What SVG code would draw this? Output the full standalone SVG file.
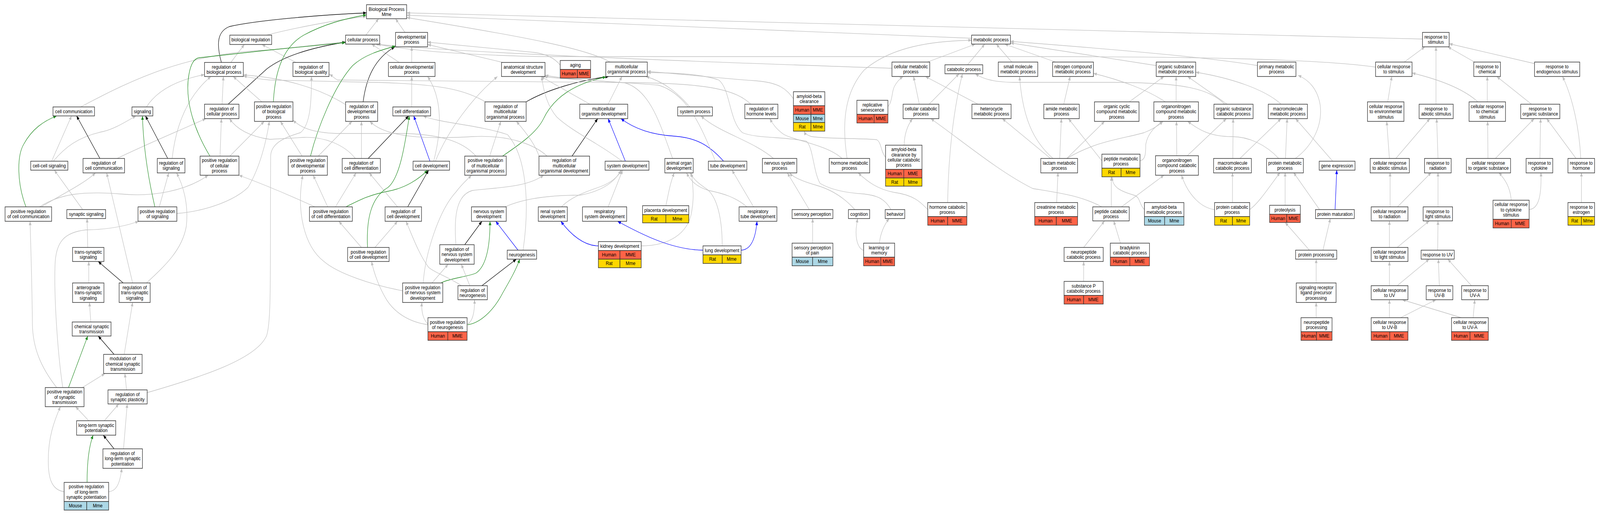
<svg xmlns="http://www.w3.org/2000/svg" width="4741" height="1317" viewBox="0 0 4741 1317" preserveAspectRatio="none">
<style>
svg{width:100%;height:100%}
.n rect{stroke:#333;stroke-width:1.5}
.b{fill:#fff}.h{fill:#ff6347}.m{fill:#add8e6}.r{fill:#ffd700}
text{font-family:"Liberation Sans",Arial,Helvetica,sans-serif;font-size:13px;text-anchor:middle;fill:#000}
#edges path{fill:none;stroke:#c0c0c0;stroke-width:1.3;marker-end:url(#ag)}
#edges path.k{stroke:#000;marker-end:url(#ak)}
#edges path.g{stroke:#228b22;marker-end:url(#agr)}
#edges path.u{stroke:#0000ff;marker-end:url(#ab)}
</style>
<defs>
<marker id="ag" viewBox="0 0 10 8" refX="10" refY="4" markerWidth="10" markerHeight="8" markerUnits="userSpaceOnUse" orient="auto"><path d="M0,0L10,4L0,8z" fill="#c0c0c0"/></marker>
<marker id="ak" viewBox="0 0 10 8" refX="10" refY="4" markerWidth="10" markerHeight="8" markerUnits="userSpaceOnUse" orient="auto"><path d="M0,0L10,4L0,8z" fill="#000"/></marker>
<marker id="agr" viewBox="0 0 10 8" refX="10" refY="4" markerWidth="10" markerHeight="8" markerUnits="userSpaceOnUse" orient="auto"><path d="M0,0L10,4L0,8z" fill="#228b22"/></marker>
<marker id="ab" viewBox="0 0 10 8" refX="10" refY="4" markerWidth="10" markerHeight="8" markerUnits="userSpaceOnUse" orient="auto"><path d="M0,0L10,4L0,8z" fill="#0000ff"/></marker>
</defs>
<rect width="4741" height="1317" fill="#fff"/>
<g id="edges">
<path d="M790,90 C870,72 990,52 1086,42"/>
<path class="k" d="M656,160 C640,110 645,80 680,68 C760,52 950,38 1086,33"/>
<path d="M1084,90 L1122,48"/>
<path d="M1200,83 L1172,48"/>
<path d="M2879,98 L1205,39"/>
<path d="M4215,100 L1205,33"/>
<path d="M1808,159 C1740,125 1560,95 1205,45"/>
<path d="M684,160 L724,114"/>
<path d="M877,160 L776,114"/>
<path d="M1183,160 L1101,113"/>
<path d="M1220,160 L1220,120"/>
<path d="M1490,160 L1267,114"/>
<path d="M1660,167 C1645,150 1620,138 1580,134 L1267,108"/>
<path d="M2351,253 C2330,228 2310,212 2240,207 C2100,198 2000,188 1918,183"/>
<path d="M2643,175 C2200,162 1400,138 1112,113"/>
<path d="M4076,172 C3900,150 3500,145 3000,145 L1600,145 C1350,140 1200,128 1118,113"/>
<path d="M2748,159 L2890,113"/>
<path d="M2867,166 L2918,113"/>
<path d="M2998,159 L2952,113"/>
<path d="M3128,159 L2977,113"/>
<path d="M3426,168 L2994,110"/>
<path d="M3726,168 C3600,150 3400,133 2994,106"/>
<path d="M4161,159 L4222,120"/>
<path d="M4369,159 L4290,120"/>
<path d="M4547,163 L4294,112"/>
<path d="M4255,267 L4255,120"/>
<path d="M239,274 C400,200 560,135 800,128 L1024,107"/>
<path d="M434,274 C465,232 525,205 606,191"/>
<path d="M658,267 L662,196"/>
<path class="k" d="M676,267 L790,177 C830,150 900,125 1024,108"/>
<path d="M776,261 L691,196"/>
<path class="g" d="M810,261 C815,180 840,120 900,90 C960,62 1020,48 1086,38"/>
<path d="M1024,268 C950,228 850,200 721,192"/>
<path class="k" d="M1076,261 C1085,200 1110,150 1170,120"/>
<path d="M1220,274 L1220,196"/>
<path d="M1440,262 C1380,230 1300,214 1100,211 L800,205 C760,202 740,198 721,195"/>
<path class="k" d="M1559,261 C1620,230 1720,205 1804,196"/>
<path d="M1802,267 L1843,196"/>
<path d="M1748,267 L1603,196"/>
<path d="M2044,274 C2010,240 1970,210 1914,196"/>
<path d="M2225,267 C2180,230 2100,215 1900,212 L1000,205 C990,200 985,195 976,190"/>
<path d="M2631,273 C2645,260 2642,235 2650,222 C2657,210 2666,202 2676,196"/>
<path d="M2724,267 L2707,196"/>
<path d="M2753,267 L2842,189"/>
<path d="M2898,267 L2742,196"/>
<path d="M3152,267 L3171,196"/>
<path d="M3346,261 L3449,196"/>
<path d="M3485,261 L3485,196"/>
<path d="M3453,261 C3400,230 3320,205 3240,188"/>
<path d="M3636,267 L3519,196"/>
<path d="M3629,267 C3580,225 3500,212 3300,211 L3000,211 C2950,210 2915,204 2890,189"/>
<path d="M3796,267 C3750,230 3650,200 3543,185"/>
<path d="M4112,261 L4124,196"/>
<path d="M4379,261 C4340,230 4270,205 4184,187"/>
<path d="M4407,261 L4407,196"/>
<path d="M4538,267 L4435,196"/>
<path d="M153,413 L212,297"/>
<path d="M158,413 C190,380 230,350 306,337 C340,330 372,312 403,297"/>
<path class="k" d="M296,406 L227,297"/>
<path d="M347,406 C420,375 530,335 610,304"/>
<path class="k" d="M497,406 L431,297"/>
<path d="M510,406 C520,330 550,250 625,196"/>
<path d="M652,400 L656,304"/>
<path d="M681,400 L783,311"/>
<path class="g" d="M622,400 C580,340 545,260 560,190 C565,165 575,150 590,148 L800,128 L1024,109"/>
<path d="M943,400 L1043,311"/>
<path d="M895,400 L831,311"/>
<path class="g" d="M920,400 C940,330 990,220 1045,168 C1080,140 1130,128 1172,118"/>
<path d="M1071,406 L1071,311"/>
<path class="k" d="M1091,406 L1211,297"/>
<path d="M1053,406 C1020,370 960,350 900,352 L800,357 C740,350 700,330 680,304"/>
<path class="u" d="M1274,413 L1226,297"/>
<path d="M1285,413 C1310,330 1310,250 1267,196"/>
<path d="M1290,413 C1330,330 1400,250 1474,196"/>
<path d="M1451,400 L1484,311"/>
<path class="g" d="M1489,400 C1540,370 1590,340 1610,305 C1640,250 1700,215 1796,197"/>
<path d="M1410,400 C1370,360 1300,345 1200,342 L1000,342 C920,340 890,325 868,308"/>
<path d="M1598,402 C1590,380 1570,350 1530,311"/>
<path class="k" d="M1695,400 L1771,304"/>
<path d="M1621,400 C1590,375 1520,345 1400,350 C1250,358 1140,350 1096,311"/>
<path class="u" d="M1853,413 L1802,304"/>
<path d="M1843,413 C1780,370 1700,340 1650,300 C1620,270 1610,230 1605,196"/>
<path d="M1993,406 C1960,330 1930,230 1850,212 C1750,205 1680,205 1612,196"/>
<path class="u" d="M2144,413 C2100,370 2060,353 2000,349 C1930,345 1880,330 1840,304"/>
<path d="M2120,413 C2080,330 2040,240 1950,218 C1800,208 1700,206 1615,193"/>
<path d="M2292,406 C2230,360 2130,340 2077,297"/>
<path d="M2495,406 C2450,370 2350,360 2320,343 C2300,330 2290,318 2281,304"/>
<path d="M2510,406 C2495,320 2500,240 2560,180 C2640,120 2760,105 2879,103"/>
<path d="M2624,403 C2610,390 2612,365 2598,358 C2560,354 2450,356 2405,350 C2392,347 2386,343 2383,336"/>
<path d="M2679,372 C2680,340 2690,320 2704,304"/>
<path d="M3113,406 L2970,304"/>
<path d="M3120,406 C3060,360 3030,300 3021,196"/>
<path d="M3140,406 L3145,304"/>
<path d="M3161,406 L3273,311"/>
<path d="M3161,406 C3250,360 3330,355 3390,340 C3420,330 3435,320 3446,311"/>
<path d="M3265,412 L3166,304"/>
<path d="M3378,412 C3395,410 3395,390 3395,370 C3400,345 3420,325 3446,311"/>
<path d="M3487,399 L3486,311"/>
<path d="M3518,399 L3634,304"/>
<path d="M3653,406 L3654,304"/>
<path d="M3674,406 L3796,304"/>
<path d="M3809,406 L3814,304"/>
<path d="M3838,406 C3880,380 3920,330 3912,270 C3905,230 3880,205 3846,193"/>
<path d="M3789,406 C3750,370 3700,350 3650,350 C3580,350 3550,330 3519,311"/>
<path d="M3949,413 L3839,304"/>
<path d="M4117,406 L4109,311"/>
<path d="M4136,406 L4237,304"/>
<path d="M4261,406 L4257,304"/>
<path d="M4409,406 L4408,311"/>
<path d="M4431,406 L4546,304"/>
<path d="M4563,406 L4565,304"/>
<path d="M4670,406 L4583,304"/>
<path d="M4684,406 C4680,330 4660,250 4630,196"/>
<path class="g" d="M77,530 C50,470 50,400 70,370 C95,330 130,310 168,297"/>
<path d="M122,530 C180,500 250,470 283,443"/>
<path d="M117,530 C180,495 250,490 357,497 C450,505 550,490 617,449"/>
<path d="M245,537 L161,436"/>
<path class="g" d="M459,530 C440,460 425,380 422,297"/>
<path d="M472,530 L500,443"/>
<path d="M524,547 C620,540 700,510 735,480 C770,430 790,360 798,311"/>
<path d="M933,530 C870,505 790,475 708,449"/>
<path d="M971,530 L928,449"/>
<path d="M994,530 L1055,443"/>
<path class="g" d="M1025,530 C1060,515 1090,500 1150,490 C1200,482 1240,460 1267,436"/>
<path d="M1178,530 L1094,443"/>
<path class="k" d="M1208,530 L1270,436"/>
<path d="M1497,530 C1560,505 1650,500 1720,500 C1780,490 1820,470 1840,436"/>
<path d="M1664,530 C1690,505 1740,490 1780,478 C1810,468 1830,455 1842,436"/>
<path d="M1802,530 L1845,436"/>
<path d="M1973,527 C1980,500 1985,470 1998,443"/>
<path d="M2233,530 L2169,436"/>
<path d="M2213,530 C2180,505 2140,495 2100,488 C2060,478 2045,460 2034,443"/>
<path d="M2398,537 L2333,443"/>
<path d="M2533,537 C2500,505 2460,485 2420,475 C2380,465 2350,455 2340,443"/>
<path d="M2640,537 C2620,505 2590,500 2560,497 C2500,494 2460,485 2430,470 C2410,440 2410,380 2390,362 C2330,350 2240,355 2200,340 C2160,310 2165,230 2130,205 C2080,190 2000,186 1918,186"/>
<path d="M2606,623 C2608,600 2620,575 2635,560"/>
<path d="M2559,642 C2540,635 2535,610 2537,585 L2541,560"/>
<path d="M2749,537 C2730,520 2710,500 2650,493 C2600,485 2570,465 2543,443"/>
<path d="M2808,519 C2810,400 2825,280 2852,189"/>
<path d="M3131,519 L3135,442"/>
<path d="M3293,530 L3293,453"/>
<path d="M3265,530 C3200,500 3130,493 3060,483 C2960,440 2850,360 2758,304"/>
<path d="M3323,530 L3449,449"/>
<path d="M3391,537 C3375,525 3380,505 3360,500 C3320,490 3296,480 3295,453"/>
<path d="M3652,519 L3652,442"/>
<path d="M3703,537 C3730,520 3760,480 3793,442"/>
<path d="M3599,537 C3560,533 3520,500 3501,449"/>
<path d="M3808,526 L3808,442"/>
<path d="M3910,537 L3833,442"/>
<path class="u" d="M3956,537 L3961,436"/>
<path d="M4119,530 L4119,442"/>
<path d="M4141,530 L4241,442"/>
<path d="M4261,530 L4261,442"/>
<path d="M4478,513 C4475,480 4460,460 4441,442"/>
<path d="M4531,537 C4560,535 4568,500 4566,442"/>
<path d="M4686,519 L4686,442"/>
<path d="M260,634 L258,560"/>
<path d="M1071,634 L1004,567"/>
<path d="M1111,634 L1178,567"/>
<path class="g" d="M1089,634 C1085,560 1100,505 1150,480 C1185,455 1200,370 1213,297"/>
<path class="k" d="M1377,627 L1428,567"/>
<path d="M1351,627 C1345,560 1350,500 1400,488 C1480,480 1560,480 1611,449"/>
<path class="u" d="M1535,641 L1469,567"/>
<path d="M1550,641 C1570,520 1560,400 1504,345 C1420,320 1300,315 1254,297"/>
<path class="u" d="M1773,630 C1730,630 1690,600 1662,567"/>
<path d="M1900,630 C1980,630 2040,600 2050,540 C2058,500 2052,470 2049,443"/>
<path class="u" d="M2083,641 C1990,640 1900,600 1830,567"/>
<path class="u" d="M2196,641 C2230,640 2240,600 2243,567"/>
<path d="M2140,630 C2140,560 2125,505 2095,485 C2070,470 2055,460 2045,443"/>
<path d="M2408,623 L2408,560"/>
<path d="M3211,634 L3273,566"/>
<path d="M3320,623 L3300,566"/>
<path d="M3920,641 L3942,560"/>
<path d="M3880,641 L3808,570"/>
<path d="M4117,634 L4117,566"/>
<path d="M4140,634 L4235,566"/>
<path d="M4260,641 L4261,566"/>
<path d="M263,725 L263,670"/>
<path class="k" d="M365,725 L291,670"/>
<path d="M393,725 L316,443"/>
<path d="M434,725 C490,680 540,640 552,580 C560,520 540,470 523,443"/>
<path d="M1280,725 L1328,677"/>
<path class="g" d="M1308,724 C1340,712 1380,710 1410,700 C1445,680 1452,620 1452,567"/>
<path d="M1254,725 C1260,650 1300,540 1351,492 C1370,470 1385,460 1397,449"/>
<path d="M1193,745 C1100,730 1000,700 960,670 C900,630 878,540 897,449"/>
<path d="M1392,732 L1367,677"/>
<path class="k" d="M1428,732 L1530,664"/>
<path d="M1367,732 C1330,710 1290,700 1270,685 C1240,650 1220,600 1203,567"/>
<path d="M3211,721 L3211,670"/>
<path d="M3900,725 L3900,664"/>
<path d="M4117,732 L4117,670"/>
<path d="M4140,732 L4235,664"/>
<path d="M4265,732 L4262,664"/>
<path d="M4360,732 L4290,664"/>
<path d="M269,825 L265,775"/>
<path d="M1268,830 C1255,820 1248,800 1250,775"/>
<path d="M1268,832 C1210,825 1170,800 1147,770 C1125,740 1108,700 1101,670"/>
<path d="M1384,831 C1400,825 1407,800 1406,768"/>
<path class="g" d="M1386,832 C1420,828 1460,800 1490,750 C1510,720 1530,690 1540,664"/>
<path d="M3900,814 L3900,775"/>
<path d="M4117,814 L4117,768"/>
<path d="M4150,814 L4255,768"/>
<path d="M4330,814 L4155,768"/>
<path d="M4365,814 L4370,768"/>
<path class="k" d="M338,908 L291,861"/>
<path d="M368,908 L393,775"/>
<path class="g" d="M203,993 L260,861"/>
<path d="M244,993 L311,957"/>
<path d="M168,993 C120,940 97,890 96,830 C95,740 92,650 89,567"/>
<path d="M186,993 C170,900 160,760 163,680 C165,620 190,595 255,589 C320,588 370,580 411,567"/>
<path d="M375,999 L370,957"/>
<path d="M436,1006 C600,965 760,920 790,860 C805,820 800,700 802,400 C803,365 850,350 890,340 C920,320 923,260 923,196"/>
<path d="M263,1078 L224,1042"/>
<path d="M309,1078 L352,1035"/>
<path class="k" d="M338,1150 L306,1115"/>
<path d="M366,1150 L377,1035"/>
<path class="g" d="M258,1236 C258,1180 265,1140 276,1115"/>
<path d="M190,1260 C150,1255 143,1220 143,1180 C143,1120 160,1080 179,1042"/>
<path d="M322,1260 C345,1258 355,1240 361,1200"/>
</g>
<g id="nodes">
<g id="bp" class="n"><rect class="b" x="1086" y="12" width="119" height="36"/><text x="1145.5" y="27.6">Biological Process</text><text x="1145.5" y="41">Mme</text></g>
<g id="bioreg" class="n"><rect class="b" x="681" y="90" width="124" height="24"/><text x="743" y="106.5">biological regulation</text></g>
<g id="cellproc" class="n"><rect class="b" x="1024" y="90" width="101" height="23"/><text x="1074.5" y="106">cellular process</text></g>
<g id="devproc" class="n"><rect class="b" x="1172" y="83" width="95" height="37"/><text x="1219.5" y="99.1">developmental</text><text x="1219.5" y="112.5">process</text></g>
<g id="metab" class="n"><rect class="b" x="2879" y="90" width="115" height="23"/><text x="2936.5" y="106">metabolic process</text></g>
<g id="respstim" class="n"><rect class="b" x="4215" y="83" width="79" height="37"/><text x="4254.5" y="99.1">response to</text><text x="4254.5" y="112.5">stimulus</text></g>
<g id="regbp" class="n"><rect class="b" x="606" y="160" width="115" height="36"/><text x="663.5" y="175.6">regulation of</text><text x="663.5" y="189">biological process</text></g>
<g id="regbq" class="n"><rect class="b" x="868" y="160" width="107" height="36"/><text x="921.5" y="175.6">regulation of</text><text x="921.5" y="189">biological quality</text></g>
<g id="celldevproc" class="n"><rect class="b" x="1151" y="160" width="138" height="36"/><text x="1220" y="175.6">cellular developmental</text><text x="1220" y="189">process</text></g>
<g id="asd" class="n"><rect class="b" x="1486" y="160" width="129" height="36"/><text x="1550.5" y="175.6">anatomical structure</text><text x="1550.5" y="189">development</text></g>
<g id="aging" class="n"><rect class="b" x="1660" y="155" width="90" height="23"/><text x="1705" y="171">aging</text><rect class="h" x="1660" y="178" width="51" height="22"/><rect class="h" x="1711" y="178" width="39" height="22"/><text x="1685.5" y="193.5">Human</text><text x="1730.5" y="193.5">MME</text></g>
<g id="mop" class="n"><rect class="b" x="1795" y="159" width="123" height="37"/><text x="1856.5" y="175.1">multicellular</text><text x="1856.5" y="188.5">organismal process</text></g>
<g id="amyclear" class="n"><rect class="b" x="2351" y="235" width="93" height="36"/><text x="2397.5" y="250.6">amyloid-beta</text><text x="2397.5" y="264">clearance</text><rect class="h" x="2351" y="271" width="52" height="22"/><rect class="h" x="2403" y="271" width="41" height="22"/><text x="2377" y="286.5">Human</text><text x="2423.5" y="286.5">MME</text><rect class="m" x="2351" y="293" width="52" height="21"/><rect class="m" x="2403" y="293" width="41" height="21"/><text x="2377" y="308">Mouse</text><text x="2423.5" y="308">Mme</text><rect class="r" x="2351" y="314" width="52" height="22"/><rect class="r" x="2403" y="314" width="41" height="22"/><text x="2377" y="329.5">Rat</text><text x="2423.5" y="329.5">Mme</text></g>
<g id="cellmetab" class="n"><rect class="b" x="2643" y="159" width="112" height="37"/><text x="2699" y="175.1">cellular metabolic</text><text x="2699" y="188.5">process</text></g>
<g id="catab" class="n"><rect class="b" x="2800" y="166" width="112" height="23"/><text x="2856" y="182">catabolic process</text></g>
<g id="smallmol" class="n"><rect class="b" x="2958" y="159" width="117" height="37"/><text x="3016.5" y="175.1">small molecule</text><text x="3016.5" y="188.5">metabolic process</text></g>
<g id="nitro" class="n"><rect class="b" x="3119" y="159" width="121" height="37"/><text x="3179.5" y="175.1">nitrogen compound</text><text x="3179.5" y="188.5">metabolic process</text></g>
<g id="orgsub" class="n"><rect class="b" x="3426" y="159" width="117" height="37"/><text x="3484.5" y="175.1">organic substance</text><text x="3484.5" y="188.5">metabolic process</text></g>
<g id="primary" class="n"><rect class="b" x="3726" y="159" width="114" height="37"/><text x="3783" y="175.1">primary metabolic</text><text x="3783" y="188.5">process</text></g>
<g id="crstim" class="n"><rect class="b" x="4076" y="159" width="108" height="37"/><text x="4130" y="175.1">cellular response</text><text x="4130" y="188.5">to stimulus</text></g>
<g id="respchem" class="n"><rect class="b" x="4367" y="159" width="79" height="37"/><text x="4406.5" y="175.1">response to</text><text x="4406.5" y="188.5">chemical</text></g>
<g id="respendo" class="n"><rect class="b" x="4547" y="159" width="134" height="37"/><text x="4614" y="175.1">response to</text><text x="4614" y="188.5">endogenous stimulus</text></g>
<g id="cellcomm" class="n"><rect class="b" x="157" y="274" width="123" height="23"/><text x="218.5" y="290">cell communication</text></g>
<g id="signaling" class="n"><rect class="b" x="391" y="274" width="62" height="23"/><text x="422" y="290">signaling</text></g>
<g id="regcp" class="n"><rect class="b" x="606" y="267" width="102" height="37"/><text x="657" y="283.1">regulation of</text><text x="657" y="296.5">cellular process</text></g>
<g id="posregbp" class="n"><rect class="b" x="754" y="261" width="114" height="50"/><text x="811" y="276.9">positive regulation</text><text x="811" y="290.3">of biological</text><text x="811" y="303.7">process</text></g>
<g id="regdev" class="n"><rect class="b" x="1024" y="261" width="95" height="50"/><text x="1071.5" y="276.9">regulation of</text><text x="1071.5" y="290.3">developmental</text><text x="1071.5" y="303.7">process</text></g>
<g id="celldiff" class="n"><rect class="b" x="1164" y="274" width="112" height="23"/><text x="1220" y="290">cell differentiation</text></g>
<g id="regmop" class="n"><rect class="b" x="1437" y="261" width="122" height="50"/><text x="1498" y="276.9">regulation of</text><text x="1498" y="290.3">multicellular</text><text x="1498" y="303.7">organismal process</text></g>
<g id="mod" class="n"><rect class="b" x="1718" y="267" width="142" height="37"/><text x="1789" y="283.1">multicellular</text><text x="1789" y="296.5">organism development</text></g>
<g id="sysproc" class="n"><rect class="b" x="2008" y="274" width="103" height="23"/><text x="2059.5" y="290">system process</text></g>
<g id="reghorm" class="n"><rect class="b" x="2207" y="267" width="98" height="37"/><text x="2256" y="283.1">regulation of</text><text x="2256" y="296.5">hormone levels</text></g>
<g id="repsen" class="n"><rect class="b" x="2539" y="257" width="92" height="36"/><text x="2585" y="272.6">replicative</text><text x="2585" y="286">senescence</text><rect class="h" x="2539" y="293" width="51" height="22"/><rect class="h" x="2590" y="293" width="41" height="22"/><text x="2564.5" y="308.5">Human</text><text x="2610.5" y="308.5">MME</text></g>
<g id="cellcatab" class="n"><rect class="b" x="2676" y="267" width="106" height="37"/><text x="2729" y="283.1">cellular catabolic</text><text x="2729" y="296.5">process</text></g>
<g id="hetero" class="n"><rect class="b" x="2880" y="267" width="116" height="37"/><text x="2938" y="283.1">heterocycle</text><text x="2938" y="296.5">metabolic process</text></g>
<g id="amide" class="n"><rect class="b" x="3093" y="267" width="105" height="37"/><text x="3145.5" y="283.1">amide metabolic</text><text x="3145.5" y="296.5">process</text></g>
<g id="orgcyc" class="n"><rect class="b" x="3243" y="261" width="132" height="50"/><text x="3309" y="276.9">organic cyclic</text><text x="3309" y="290.3">compound metabolic</text><text x="3309" y="303.7">process</text></g>
<g id="orgnitro" class="n"><rect class="b" x="3419" y="261" width="132" height="50"/><text x="3485" y="276.9">organonitrogen</text><text x="3485" y="290.3">compound metabolic</text><text x="3485" y="303.7">process</text></g>
<g id="orgsubcat" class="n"><rect class="b" x="3597" y="267" width="116" height="37"/><text x="3655" y="283.1">organic substance</text><text x="3655" y="296.5">catabolic process</text></g>
<g id="macro" class="n"><rect class="b" x="3758" y="267" width="116" height="37"/><text x="3816" y="283.1">macromolecule</text><text x="3816" y="296.5">metabolic process</text></g>
<g id="crenv" class="n"><rect class="b" x="4052" y="261" width="108" height="50"/><text x="4106" y="276.9">cellular response</text><text x="4106" y="290.3">to environmental</text><text x="4106" y="303.7">stimulus</text></g>
<g id="rabiotic" class="n"><rect class="b" x="4205" y="267" width="101" height="37"/><text x="4255.5" y="283.1">response to</text><text x="4255.5" y="296.5">abiotic stimulus</text></g>
<g id="crchem" class="n"><rect class="b" x="4353" y="261" width="108" height="50"/><text x="4407" y="276.9">cellular response</text><text x="4407" y="290.3">to chemical</text><text x="4407" y="303.7">stimulus</text></g>
<g id="rorg" class="n"><rect class="b" x="4506" y="267" width="116" height="37"/><text x="4564" y="283.1">response to</text><text x="4564" y="296.5">organic substance</text></g>
<g id="ccsig" class="n"><rect class="b" x="91" y="413" width="110" height="23"/><text x="146" y="429">cell-cell signaling</text></g>
<g id="regcc" class="n"><rect class="b" x="246" y="406" width="123" height="37"/><text x="307.5" y="422.1">regulation of</text><text x="307.5" y="435.5">cell communication</text></g>
<g id="regsig" class="n"><rect class="b" x="466" y="406" width="82" height="37"/><text x="507" y="422.1">regulation of</text><text x="507" y="435.5">signaling</text></g>
<g id="posregcp" class="n"><rect class="b" x="593" y="400" width="115" height="49"/><text x="650.5" y="415.4">positive regulation</text><text x="650.5" y="428.8">of cellular</text><text x="650.5" y="442.2">process</text></g>
<g id="posregdev" class="n"><rect class="b" x="854" y="400" width="116" height="49"/><text x="912" y="415.4">positive regulation</text><text x="912" y="428.8">of developmental</text><text x="912" y="442.2">process</text></g>
<g id="regcd" class="n"><rect class="b" x="1014" y="406" width="113" height="37"/><text x="1070.5" y="422.1">regulation of</text><text x="1070.5" y="435.5">cell differentiation</text></g>
<g id="celldev" class="n"><rect class="b" x="1224" y="413" width="108" height="23"/><text x="1278" y="429">cell development</text></g>
<g id="posregmop" class="n"><rect class="b" x="1377" y="400" width="123" height="49"/><text x="1438.5" y="415.4">positive regulation</text><text x="1438.5" y="428.8">of multicellular</text><text x="1438.5" y="442.2">organismal process</text></g>
<g id="regmod" class="n"><rect class="b" x="1597" y="400" width="150" height="49"/><text x="1672" y="415.4">regulation of</text><text x="1672" y="428.8">multicellular</text><text x="1672" y="442.2">organismal development</text></g>
<g id="sysdev" class="n"><rect class="b" x="1793" y="413" width="130" height="23"/><text x="1858" y="429">system development</text></g>
<g id="aod" class="n"><rect class="b" x="1970" y="406" width="84" height="37"/><text x="2012" y="422.1">animal organ</text><text x="2012" y="435.5">development</text></g>
<g id="tubedev" class="n"><rect class="b" x="2099" y="413" width="114" height="23"/><text x="2156" y="429">tube development</text></g>
<g id="nsp" class="n"><rect class="b" x="2259" y="406" width="102" height="37"/><text x="2310" y="422.1">nervous system</text><text x="2310" y="435.5">process</text></g>
<g id="hormmet" class="n"><rect class="b" x="2457" y="406" width="120" height="37"/><text x="2517" y="422.1">hormone metabolic</text><text x="2517" y="435.5">process</text></g>
<g id="abcc" class="n"><rect class="b" x="2624" y="372" width="108" height="62"/><text x="2678" y="387.2">amyloid-beta</text><text x="2678" y="400.6">clearance by</text><text x="2678" y="414">cellular catabolic</text><text x="2678" y="427.4">process</text><rect class="h" x="2624" y="434" width="54" height="22"/><rect class="h" x="2678" y="434" width="54" height="22"/><text x="2651" y="449.5">Human</text><text x="2705" y="449.5">MME</text><rect class="r" x="2624" y="456" width="54" height="21"/><rect class="r" x="2678" y="456" width="54" height="21"/><text x="2651" y="471">Rat</text><text x="2705" y="471">Mme</text></g>
<g id="lactam" class="n"><rect class="b" x="3084" y="406" width="109" height="37"/><text x="3138.5" y="422.1">lactam metabolic</text><text x="3138.5" y="435.5">process</text></g>
<g id="peptmet" class="n"><rect class="b" x="3265" y="395" width="113" height="36"/><text x="3321.5" y="410.6">peptide metabolic</text><text x="3321.5" y="424">process</text><rect class="r" x="3265" y="431" width="57" height="22"/><rect class="r" x="3322" y="431" width="56" height="22"/><text x="3293.5" y="446.5">Rat</text><text x="3350" y="446.5">Mme</text></g>
<g id="onccat" class="n"><rect class="b" x="3424" y="399" width="127" height="50"/><text x="3487.5" y="414.9">organonitrogen</text><text x="3487.5" y="428.3">compound catabolic</text><text x="3487.5" y="441.7">process</text></g>
<g id="macrocat" class="n"><rect class="b" x="3596" y="406" width="112" height="37"/><text x="3652" y="422.1">macromolecule</text><text x="3652" y="435.5">catabolic process</text></g>
<g id="protmet" class="n"><rect class="b" x="3753" y="406" width="109" height="37"/><text x="3807.5" y="422.1">protein metabolic</text><text x="3807.5" y="435.5">process</text></g>
<g id="geneexp" class="n"><rect class="b" x="3909" y="413" width="106" height="23"/><text x="3962" y="429">gene expression</text></g>
<g id="crabiotic" class="n"><rect class="b" x="4060" y="406" width="116" height="37"/><text x="4118" y="422.1">cellular response</text><text x="4118" y="435.5">to abiotic stimulus</text></g>
<g id="rrad" class="n"><rect class="b" x="4221" y="406" width="79" height="37"/><text x="4260.5" y="422.1">response to</text><text x="4260.5" y="435.5">radiation</text></g>
<g id="crorg" class="n"><rect class="b" x="4345" y="406" width="131" height="37"/><text x="4410.5" y="422.1">cellular response</text><text x="4410.5" y="435.5">to organic substance</text></g>
<g id="rcyto" class="n"><rect class="b" x="4522" y="406" width="79" height="37"/><text x="4561.5" y="422.1">response to</text><text x="4561.5" y="435.5">cytokine</text></g>
<g id="rhorm" class="n"><rect class="b" x="4646" y="406" width="79" height="37"/><text x="4685.5" y="422.1">response to</text><text x="4685.5" y="435.5">hormone</text></g>
<g id="posregcc" class="n"><rect class="b" x="15" y="530" width="138" height="37"/><text x="84" y="546.1">positive regulation</text><text x="84" y="559.5">of cell communication</text></g>
<g id="synsig" class="n"><rect class="b" x="198" y="537" width="115" height="23"/><text x="255.5" y="553">synaptic signaling</text></g>
<g id="posregsig" class="n"><rect class="b" x="409" y="530" width="115" height="37"/><text x="466.5" y="546.1">positive regulation</text><text x="466.5" y="559.5">of signaling</text></g>
<g id="posregcd" class="n"><rect class="b" x="917" y="530" width="127" height="37"/><text x="980.5" y="546.1">positive regulation</text><text x="980.5" y="559.5">of cell differentiation</text></g>
<g id="regcdev" class="n"><rect class="b" x="1141" y="530" width="108" height="37"/><text x="1195" y="546.1">regulation of</text><text x="1195" y="559.5">cell development</text></g>
<g id="nsd" class="n"><rect class="b" x="1397" y="530" width="103" height="37"/><text x="1448.5" y="546.1">nervous system</text><text x="1448.5" y="559.5">development</text></g>
<g id="renal" class="n"><rect class="b" x="1595" y="530" width="86" height="37"/><text x="1638" y="546.1">renal system</text><text x="1638" y="559.5">development</text></g>
<g id="resp" class="n"><rect class="b" x="1726" y="530" width="131" height="37"/><text x="1791.5" y="546.1">respiratory</text><text x="1791.5" y="559.5">system development</text></g>
<g id="placenta" class="n"><rect class="b" x="1904" y="527" width="137" height="23"/><text x="1972.5" y="543">placenta development</text><rect class="r" x="1904" y="550" width="69" height="21"/><rect class="r" x="1973" y="550" width="68" height="21"/><text x="1938.5" y="565">Rat</text><text x="2007" y="565">Mme</text></g>
<g id="resptube" class="n"><rect class="b" x="2190" y="530" width="112" height="37"/><text x="2246" y="546.1">respiratory</text><text x="2246" y="559.5">tube development</text></g>
<g id="sensperc" class="n"><rect class="b" x="2347" y="537" width="121" height="23"/><text x="2407.5" y="553">sensory perception</text></g>
<g id="cognition" class="n"><rect class="b" x="2514" y="537" width="63" height="23"/><text x="2545.5" y="553">cognition</text></g>
<g id="behavior" class="n"><rect class="b" x="2623" y="537" width="58" height="23"/><text x="2652" y="553">behavior</text></g>
<g id="hormcat" class="n"><rect class="b" x="2749" y="519" width="116" height="36"/><text x="2807" y="534.6">hormone catabolic</text><text x="2807" y="548">process</text><rect class="h" x="2749" y="555" width="59" height="22"/><rect class="h" x="2808" y="555" width="57" height="22"/><text x="2778.5" y="570.5">Human</text><text x="2836.5" y="570.5">MME</text></g>
<g id="creat" class="n"><rect class="b" x="3066" y="519" width="127" height="36"/><text x="3129.5" y="534.6">creatinine metabolic</text><text x="3129.5" y="548">process</text><rect class="h" x="3066" y="555" width="64" height="22"/><rect class="h" x="3130" y="555" width="63" height="22"/><text x="3098" y="570.5">Human</text><text x="3161.5" y="570.5">MME</text></g>
<g id="peptcat" class="n"><rect class="b" x="3238" y="530" width="108" height="36"/><text x="3292" y="546.1">peptide catabolic</text><text x="3292" y="559.5">process</text></g>
<g id="abmet" class="n"><rect class="b" x="3391" y="519" width="117" height="36"/><text x="3449.5" y="534.6">amyloid-beta</text><text x="3449.5" y="548">metabolic process</text><rect class="m" x="3391" y="555" width="60" height="22"/><rect class="m" x="3451" y="555" width="57" height="22"/><text x="3421" y="570.5">Mouse</text><text x="3479.5" y="570.5">Mme</text></g>
<g id="protcat" class="n"><rect class="b" x="3599" y="519" width="104" height="36"/><text x="3651" y="534.6">protein catabolic</text><text x="3651" y="548">process</text><rect class="r" x="3599" y="555" width="53" height="22"/><rect class="r" x="3652" y="555" width="51" height="22"/><text x="3625.5" y="570.5">Rat</text><text x="3677.5" y="570.5">Mme</text></g>
<g id="proteolysis" class="n"><rect class="b" x="3762" y="526" width="91" height="23"/><text x="3807.5" y="542">proteolysis</text><rect class="h" x="3762" y="549" width="51" height="21"/><rect class="h" x="3813" y="549" width="40" height="21"/><text x="3787.5" y="564">Human</text><text x="3833" y="564">MME</text></g>
<g id="protmat" class="n"><rect class="b" x="3898" y="537" width="115" height="23"/><text x="3955.5" y="553">protein maturation</text></g>
<g id="crrad" class="n"><rect class="b" x="4063" y="530" width="109" height="36"/><text x="4117.5" y="546.1">cellular response</text><text x="4117.5" y="559.5">to radiation</text></g>
<g id="rlight" class="n"><rect class="b" x="4217" y="530" width="87" height="36"/><text x="4260.5" y="546.1">response to</text><text x="4260.5" y="559.5">light stimulus</text></g>
<g id="crcyto" class="n"><rect class="b" x="4424" y="513" width="107" height="49"/><text x="4477.5" y="528.4">cellular response</text><text x="4477.5" y="541.8">to cytokine</text><text x="4477.5" y="555.2">stimulus</text><rect class="h" x="4424" y="562" width="54" height="22"/><rect class="h" x="4478" y="562" width="53" height="22"/><text x="4451" y="577.5">Human</text><text x="4504.5" y="577.5">MME</text></g>
<g id="restro" class="n"><rect class="b" x="4646" y="519" width="79" height="36"/><text x="4685.5" y="534.6">response to</text><text x="4685.5" y="548">estrogen</text><rect class="r" x="4646" y="555" width="40" height="22"/><rect class="r" x="4686" y="555" width="39" height="22"/><text x="4666" y="570.5">Rat</text><text x="4705.5" y="570.5">Mme</text></g>
<g id="tss" class="n"><rect class="b" x="215" y="634" width="93" height="36"/><text x="261.5" y="649.6">trans-synaptic</text><text x="261.5" y="663">signaling</text></g>
<g id="posregcdev" class="n"><rect class="b" x="1030" y="634" width="123" height="36"/><text x="1091.5" y="649.6">positive regulation</text><text x="1091.5" y="663">of cell development</text></g>
<g id="regnsd" class="n"><rect class="b" x="1303" y="627" width="102" height="50"/><text x="1354" y="642.9">regulation of</text><text x="1354" y="656.3">nervous system</text><text x="1354" y="669.7">development</text></g>
<g id="neurogenesis" class="n"><rect class="b" x="1503" y="641" width="87" height="23"/><text x="1546.5" y="657">neurogenesis</text></g>
<g id="kidney" class="n"><rect class="b" x="1773" y="619" width="127" height="23"/><text x="1836.5" y="635">kidney development</text><rect class="h" x="1773" y="642" width="64" height="22"/><rect class="h" x="1837" y="642" width="63" height="22"/><text x="1805" y="657.5">Human</text><text x="1868.5" y="657.5">MME</text><rect class="r" x="1773" y="664" width="64" height="22"/><rect class="r" x="1837" y="664" width="63" height="22"/><text x="1805" y="679.5">Rat</text><text x="1868.5" y="679.5">Mme</text></g>
<g id="lung" class="n"><rect class="b" x="2083" y="630" width="113" height="23"/><text x="2139.5" y="646">lung development</text><rect class="r" x="2083" y="653" width="57" height="22"/><rect class="r" x="2140" y="653" width="56" height="22"/><text x="2111.5" y="668.5">Rat</text><text x="2168" y="668.5">Mme</text></g>
<g id="spp" class="n"><rect class="b" x="2347" y="623" width="121" height="36"/><text x="2407.5" y="638.6">sensory perception</text><text x="2407.5" y="652">of pain</text><rect class="m" x="2347" y="659" width="61" height="22"/><rect class="m" x="2408" y="659" width="60" height="22"/><text x="2377.5" y="674.5">Mouse</text><text x="2438" y="674.5">Mme</text></g>
<g id="lom" class="n"><rect class="b" x="2559" y="623" width="92" height="36"/><text x="2605" y="638.6">learning or</text><text x="2605" y="652">memory</text><rect class="h" x="2559" y="659" width="51" height="22"/><rect class="h" x="2610" y="659" width="41" height="22"/><text x="2584.5" y="674.5">Human</text><text x="2630.5" y="674.5">MME</text></g>
<g id="npcat" class="n"><rect class="b" x="3153" y="634" width="116" height="36"/><text x="3211" y="649.6">neuropeptide</text><text x="3211" y="663">catabolic process</text></g>
<g id="brady" class="n"><rect class="b" x="3290" y="623" width="116" height="36"/><text x="3348" y="638.6">bradykinin</text><text x="3348" y="652">catabolic process</text><rect class="h" x="3290" y="659" width="58" height="22"/><rect class="h" x="3348" y="659" width="58" height="22"/><text x="3319" y="674.5">Human</text><text x="3377" y="674.5">MME</text></g>
<g id="protproc" class="n"><rect class="b" x="3839" y="641" width="122" height="23"/><text x="3900" y="657">protein processing</text></g>
<g id="crlight" class="n"><rect class="b" x="4063" y="634" width="109" height="36"/><text x="4117.5" y="649.6">cellular response</text><text x="4117.5" y="663">to light stimulus</text></g>
<g id="ruv" class="n"><rect class="b" x="4211" y="641" width="98" height="23"/><text x="4260" y="657">response to UV</text></g>
<g id="antero" class="n"><rect class="b" x="215" y="725" width="93" height="50"/><text x="261.5" y="740.9">anterograde</text><text x="261.5" y="754.3">trans-synaptic</text><text x="261.5" y="767.7">signaling</text></g>
<g id="regtss" class="n"><rect class="b" x="353" y="725" width="92" height="50"/><text x="399" y="740.9">regulation of</text><text x="399" y="754.3">trans-synaptic</text><text x="399" y="767.7">signaling</text></g>
<g id="posregnsd" class="n"><rect class="b" x="1193" y="725" width="119" height="50"/><text x="1252.5" y="740.9">positive regulation</text><text x="1252.5" y="754.3">of nervous system</text><text x="1252.5" y="767.7">development</text></g>
<g id="regneuro" class="n"><rect class="b" x="1357" y="732" width="87" height="36"/><text x="1400.5" y="747.6">regulation of</text><text x="1400.5" y="761">neurogenesis</text></g>
<g id="subp" class="n"><rect class="b" x="3153" y="721" width="116" height="36"/><text x="3211" y="736.6">substance P</text><text x="3211" y="750">catabolic process</text><rect class="h" x="3153" y="757" width="58" height="22"/><rect class="h" x="3211" y="757" width="58" height="22"/><text x="3182" y="772.5">Human</text><text x="3240" y="772.5">MME</text></g>
<g id="srlpp" class="n"><rect class="b" x="3841" y="725" width="118" height="50"/><text x="3900" y="740.9">signaling receptor</text><text x="3900" y="754.3">ligand precursor</text><text x="3900" y="767.7">processing</text></g>
<g id="cruv" class="n"><rect class="b" x="4063" y="732" width="109" height="36"/><text x="4117.5" y="747.6">cellular response</text><text x="4117.5" y="761">to UV</text></g>
<g id="ruvb" class="n"><rect class="b" x="4226" y="732" width="79" height="36"/><text x="4265.5" y="747.6">response to</text><text x="4265.5" y="761">UV-B</text></g>
<g id="ruva" class="n"><rect class="b" x="4331" y="732" width="79" height="36"/><text x="4370.5" y="747.6">response to</text><text x="4370.5" y="761">UV-A</text></g>
<g id="cst" class="n"><rect class="b" x="214" y="825" width="115" height="36"/><text x="271.5" y="840.6">chemical synaptic</text><text x="271.5" y="854">transmission</text></g>
<g id="posregneuro" class="n"><rect class="b" x="1268" y="814" width="116" height="36"/><text x="1326" y="829.6">positive regulation</text><text x="1326" y="843">of neurogenesis</text><rect class="h" x="1268" y="850" width="59" height="22"/><rect class="h" x="1327" y="850" width="57" height="22"/><text x="1297.5" y="865.5">Human</text><text x="1355.5" y="865.5">MME</text></g>
<g id="npproc" class="n"><rect class="b" x="3855" y="814" width="92" height="36"/><text x="3901" y="829.6">neuropeptide</text><text x="3901" y="843">processing</text><rect class="h" x="3855" y="850" width="46" height="22"/><rect class="h" x="3901" y="850" width="46" height="22"/><text x="3878" y="865.5">Human</text><text x="3924" y="865.5">MME</text></g>
<g id="cruvb" class="n"><rect class="b" x="4063" y="814" width="109" height="36"/><text x="4117.5" y="829.6">cellular response</text><text x="4117.5" y="843">to UV-B</text><rect class="h" x="4063" y="850" width="55" height="22"/><rect class="h" x="4118" y="850" width="54" height="22"/><text x="4090.5" y="865.5">Human</text><text x="4145" y="865.5">MME</text></g>
<g id="cruva" class="n"><rect class="b" x="4301" y="814" width="109" height="36"/><text x="4355.5" y="829.6">cellular response</text><text x="4355.5" y="843">to UV-A</text><rect class="h" x="4301" y="850" width="55" height="22"/><rect class="h" x="4356" y="850" width="54" height="22"/><text x="4328.5" y="865.5">Human</text><text x="4383" y="865.5">MME</text></g>
<g id="modcst" class="n"><rect class="b" x="307" y="908" width="114" height="49"/><text x="364" y="923.4">modulation of</text><text x="364" y="936.8">chemical synaptic</text><text x="364" y="950.2">transmission</text></g>
<g id="posregst" class="n"><rect class="b" x="134" y="993" width="115" height="49"/><text x="191.5" y="1008.4">positive regulation</text><text x="191.5" y="1021.8">of synaptic</text><text x="191.5" y="1035.2">transmission</text></g>
<g id="regsp" class="n"><rect class="b" x="320" y="999" width="116" height="36"/><text x="378" y="1014.6">regulation of</text><text x="378" y="1028">synaptic plasticity</text></g>
<g id="ltp" class="n"><rect class="b" x="227" y="1078" width="116" height="37"/><text x="285" y="1094.1">long-term synaptic</text><text x="285" y="1107.5">potentiation</text></g>
<g id="regltp" class="n"><rect class="b" x="305" y="1150" width="117" height="50"/><text x="363.5" y="1165.9">regulation of</text><text x="363.5" y="1179.3">long-term synaptic</text><text x="363.5" y="1192.7">potentiation</text></g>
<g id="posregltp" class="n"><rect class="b" x="190" y="1236" width="132" height="49"/><text x="256" y="1251.4">positive regulation</text><text x="256" y="1264.8">of long-term</text><text x="256" y="1278.2">synaptic potentiation</text><rect class="m" x="190" y="1285" width="67" height="22"/><rect class="m" x="257" y="1285" width="65" height="22"/><text x="223.5" y="1300.5">Mouse</text><text x="289.5" y="1300.5">Mme</text></g>
</g>
</svg>
